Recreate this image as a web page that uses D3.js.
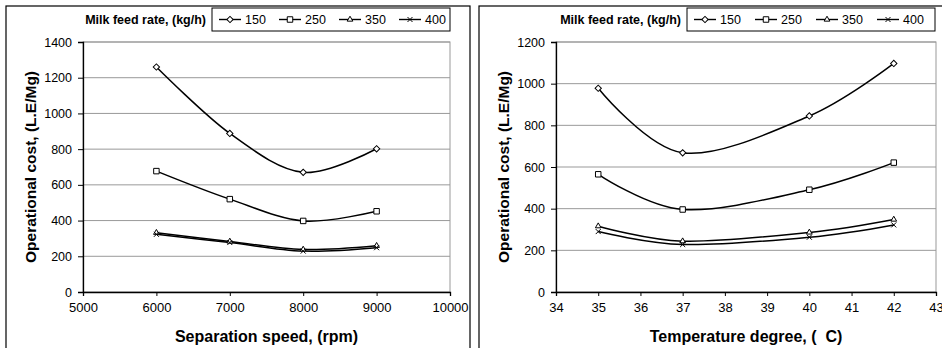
<!DOCTYPE html>
<html>
<head>
<meta charset="utf-8">
<script src="https://cdn.jsdelivr.net/npm/d3@7"></script>
<style>
    body { margin: 0; background: #fff; }
    text { font-family: "Liberation Sans", Arial, sans-serif; white-space: pre; }
</style>
</head>
<body>
<svg id="chart" width="942" height="348"></svg>
<script>

// Milk feed rates (legend)
const feedRates = ["150", "250", "350", "400"];

// Left panel: separation speed (rpm)
const speeds = [6000, 7000, 8000, 9000];
const speedTicks = [5000, 6000, 7000, 8000, 9000, 10000];
const speedCost150 = [1260, 888, 670, 802];
const speedCost250 = [677, 520, 398, 452];
const speedCost350 = [332, 283, 238, 259];
const speedCost400 = [323, 277, 229, 248];
const speedCostTicks = [0, 200, 400, 600, 800, 1000, 1200, 1400];

// Right panel: temperature degree (C)
const temps = [35, 37, 40, 42];
const tempTicks = [34, 35, 36, 37, 38, 39, 40, 41, 42, 43];
const tempCost150 = [978, 668, 845, 1097];
const tempCost250 = [565, 396, 491, 621];
const tempCost350 = [316, 244, 286, 348];
const tempCost400 = [290, 228, 263, 322];
const tempCostTicks = [0, 200, 400, 600, 800, 1000, 1200];

const svg = d3.select("#chart");
svg.append("rect").attr("width", 942).attr("height", 348).attr("fill", "#fff");

// marker shapes per series
const markers = [
    {type: d3.symbolSquare, size: 20, rotate: 45, fill: "#fff"},
    {type: d3.symbolSquare, size: 30, rotate: 0, fill: "#fff"},
    {type: d3.symbolTriangle, size: 14, rotate: 0, fill: "#fff"},
    {type: d3.symbolX, size: 18, rotate: 0, fill: "none"}
];

function drawMarker(g, i, x, y) {
    let m = markers[i];
    g.append("path")
        .attr("d", d3.symbol().type(m.type).size(m.size)())
        .attr("transform", "translate(" + x + "," + y + ") rotate(" + m.rotate + ")")
        .attr("fill", m.fill)
        .attr("stroke", "#000")
        .attr("stroke-width", 1);
}

function drawPanel(opts) {
    let g = svg.append("g");

    // outer chart border (runs off the bottom of the picture)
    g.append("rect")
        .attr("x", opts.boxX).attr("y", 6)
        .attr("width", opts.boxW).attr("height", 360)
        .attr("fill", "none").attr("stroke", "#000").attr("stroke-width", 1.2);

    let x = d3.scaleLinear().domain(opts.xDomain).range([opts.x0, opts.x1]);
    let y = d3.scaleLinear().domain(opts.yDomain).range([opts.y1, opts.y0]);

    // gridlines
    g.selectAll(".grid")
        .data(opts.yTicks.filter(d => d > 0))
        .enter()
        .append("line")
        .attr("x1", opts.x0).attr("x2", opts.x1)
        .attr("y1", d => y(d)).attr("y2", d => y(d))
        .attr("stroke", "#999").attr("stroke-width", 1);

    g.append("rect")
        .attr("x", opts.x0).attr("y", opts.y0)
        .attr("width", opts.x1 - opts.x0).attr("height", opts.y1 - opts.y0)
        .attr("fill", "none").attr("stroke", "#999").attr("stroke-width", 1);

    let yAxis = g.append("g")
        .attr("transform", "translate(" + opts.x0 + ",0)")
        .call(d3.axisLeft(y).tickValues(opts.yTicks).tickSize(5).tickPadding(6).tickFormat(d3.format("d")));
    let xAxis = g.append("g")
        .attr("transform", "translate(0," + opts.y1 + ")")
        .call(d3.axisBottom(x).tickValues(opts.xTicks).tickSize(4).tickPadding(7).tickFormat(d3.format("d")));

    [yAxis, xAxis].forEach(a => {
        a.selectAll("path").attr("stroke", "#000").attr("stroke-width", 1.3);
        a.selectAll("line").attr("stroke", "#000");
        a.selectAll("text")
            .attr("font-family", "Liberation Sans, Arial, sans-serif")
            .attr("fill", "#000");
    });
    yAxis.selectAll("text").attr("font-size", 12.5);
    xAxis.selectAll("text").attr("font-size", 13);

    // series
    let line = d3.line()
        .x((d, i) => x(opts.xs[i]))
        .y(d => y(d))
        .curve(d3.curveCardinal.tension(0));

    opts.series.forEach((vals, s) => {
        g.append("path")
            .attr("d", line(vals))
            .attr("fill", "none")
            .attr("stroke", "#000")
            .attr("stroke-width", 1.5);
    });
    opts.series.forEach((vals, s) => {
        vals.forEach((v, i) => drawMarker(g, s, x(opts.xs[i]), y(v)));
    });

    // axis titles
    g.append("text")
        .attr("x", (opts.x0 + opts.x1) / 2).attr("y", 342)
        .attr("text-anchor", "middle")
        .attr("font-size", 16).attr("font-weight", "bold")
        .text(opts.xTitle);

    g.append("text")
        .attr("transform", "translate(" + (opts.boxX + 25) + "," + ((opts.y0 + opts.y1) / 2) + ") rotate(-90)")
        .attr("text-anchor", "middle")
        .attr("dy", "0.35em")
        .attr("font-size", 15.5).attr("font-weight", "bold")
        .text("Operational cost, (L.E/Mg)");

    // legend
    let lg = g.append("g");
    lg.append("text")
        .attr("x", opts.legX - 6).attr("y", 24)
        .attr("text-anchor", "end")
        .attr("font-size", 12.5).attr("font-weight", "bold")
        .text("Milk feed rate, (kg/h)");
    lg.append("rect")
        .attr("x", opts.legX).attr("y", 8)
        .attr("width", opts.legW).attr("height", 23)
        .attr("fill", "#fff").attr("stroke", "#000").attr("stroke-width", 1);

    feedRates.forEach((name, i) => {
        let sx = opts.legX + 7 + i * opts.legStep;
        lg.append("line")
            .attr("x1", sx).attr("x2", sx + 22)
            .attr("y1", 19.5).attr("y2", 19.5)
            .attr("stroke", "#000").attr("stroke-width", 1.4);
        drawMarker(lg, i, sx + 11, 19.5);
        lg.append("text")
            .attr("x", sx + 26).attr("y", 24)
            .attr("font-size", 12.5)
            .text(name);
    });
}

drawPanel({
    boxX: 6, boxW: 464,
    x0: 83, x1: 450, y0: 42, y1: 292,
    xDomain: [5000, 10000], yDomain: [0, 1400],
    xTicks: speedTicks, yTicks: speedCostTicks,
    xs: speeds,
    series: [speedCost150, speedCost250, speedCost350, speedCost400],
    xTitle: "Separation speed, (rpm)",
    legX: 212, legW: 238, legStep: 60
});

drawPanel({
    boxX: 479, boxW: 480,
    x0: 556, x1: 936, y0: 42, y1: 292,
    xDomain: [34, 43], yDomain: [0, 1200],
    xTicks: tempTicks, yTicks: tempCostTicks,
    xs: temps,
    series: [tempCost150, tempCost250, tempCost350, tempCost400],
    xTitle: "Temperature degree, (  C)",
    legX: 687, legW: 248, legStep: 61
});

</script>
</body>
</html>
